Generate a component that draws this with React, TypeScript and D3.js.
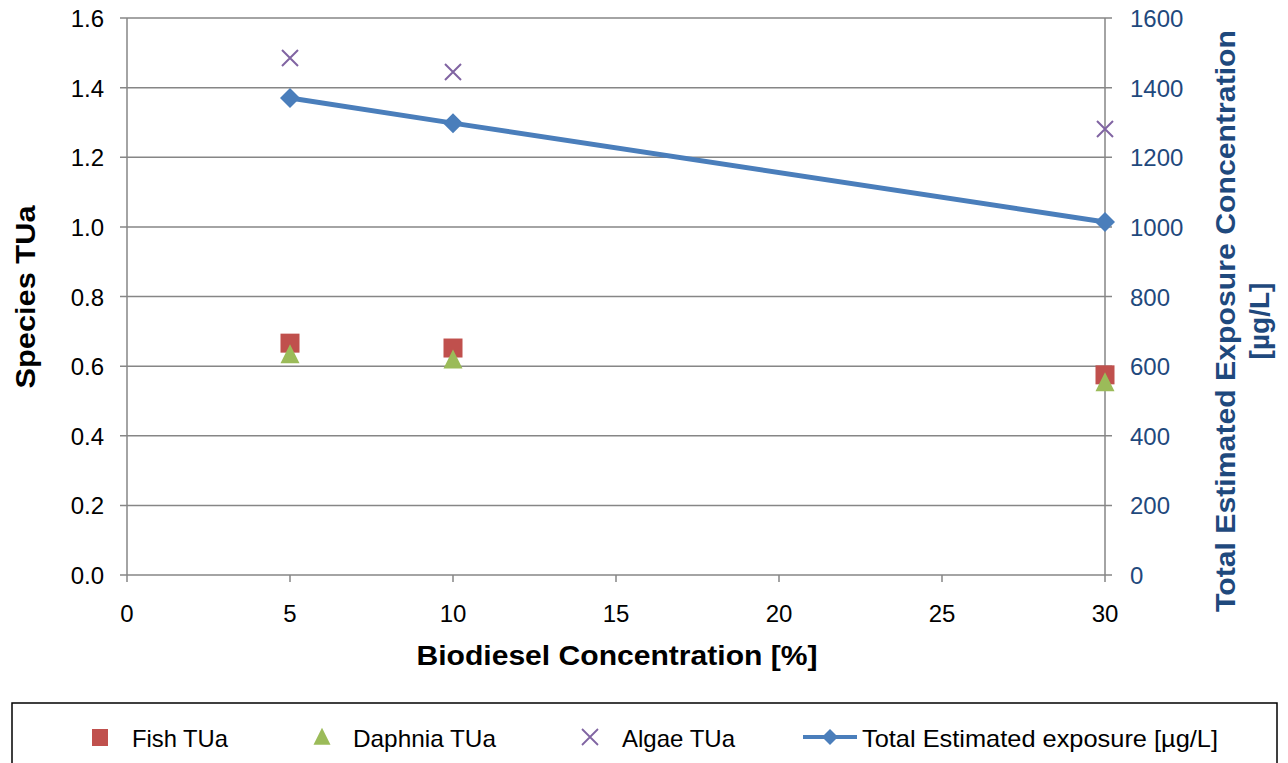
import React from "react";
import * as d3 from "d3";

const concentrations = [5, 10, 30];
const fishTUa = [0.666, 0.652, 0.575];
const daphniaTUa = [0.63, 0.615, 0.55];
const algaeTUa = [1.485, 1.445, 1.281];
const totalExposure = [1370, 1298, 1014];
const xTicks = [0, 5, 10, 15, 20, 25, 30];
const yLeftTicks = [0, 0.2, 0.4, 0.6, 0.8, 1.0, 1.2, 1.4, 1.6];
const yRightTicks = [0, 200, 400, 600, 800, 1000, 1200, 1400, 1600];

const W = 1288;
const H = 763;
const left = 127;
const right = 1105;
const top = 18;
const bottom = 575;
const font = "'Liberation Sans', Arial, sans-serif";
const axisColor = "#868686";
const rightColor = "#1F497D";

export default function App() {
  const x = d3.scaleLinear().domain([0, 30]).range([left, right]);
  const yL = d3.scaleLinear().domain([0, 1.6]).range([bottom, top]);
  const yR = d3.scaleLinear().domain([0, 1600]).range([bottom, top]);
  const line = d3
    .line<number>()
    .x((_, i) => x(concentrations[i]))
    .y((d) => yR(d));
  const tri = (cx: number, cy: number, s: number) =>
    `M${cx},${cy - s * 0.6}L${cx + s / 2},${cy + s * 0.4}L${cx - s / 2},${cy + s * 0.4}Z`;
  const diamond = (cx: number, cy: number, s: number) =>
    `M${cx},${cy - s}L${cx + s},${cy}L${cx},${cy + s}L${cx - s},${cy}Z`;
  const cross = (cx: number, cy: number, s: number) =>
    `M${cx - s},${cy - s}L${cx + s},${cy + s}M${cx - s},${cy + s}L${cx + s},${cy - s}`;

  return (
    <svg
      width={W}
      height={H}
      style={{ position: "absolute", left: 0, top: 0, background: "#fff" }}
      fontFamily={font}
    >
      {yLeftTicks.map((t) => (
        <line
          key={"g" + t}
          x1={left - 7}
          x2={right + 7}
          y1={yL(t)}
          y2={yL(t)}
          stroke={axisColor}
          strokeWidth={1.5}
        />
      ))}
      <line x1={left} x2={left} y1={top} y2={bottom} stroke={axisColor} strokeWidth={1.5} />
      <line x1={right} x2={right} y1={top} y2={bottom} stroke={axisColor} strokeWidth={1.5} />
      {xTicks.map((t) => (
        <g key={"x" + t}>
          <line x1={x(t)} x2={x(t)} y1={bottom} y2={bottom + 7} stroke={axisColor} strokeWidth={1.5} />
          <text x={x(t)} y={622} textAnchor="middle" fontSize={24} fill="#000">
            {t}
          </text>
        </g>
      ))}
      {yLeftTicks.map((t) => (
        <text key={"yl" + t} x={104} y={yL(t) + 9} textAnchor="end" fontSize={24} fill="#000">
          {t.toFixed(1)}
        </text>
      ))}
      {yRightTicks.map((t) => (
        <text key={"yr" + t} x={1130} y={yR(t) + 9} textAnchor="start" fontSize={24} fill={rightColor}>
          {t}
        </text>
      ))}
      <text
        x={617}
        y={665}
        textAnchor="middle"
        fontSize={28}
        fontWeight="bold"
        fill="#000"
        textLength={401}
        lengthAdjust="spacingAndGlyphs"
      >
        Biodiesel Concentration [%]
      </text>
      <text
        transform={`translate(35,297) rotate(-90)`}
        textAnchor="middle"
        fontSize={28}
        fontWeight="bold"
        fill="#000"
        textLength={183}
        lengthAdjust="spacingAndGlyphs"
      >
        Species TUa
      </text>
      <text
        transform={`translate(1235,321) rotate(-90)`}
        textAnchor="middle"
        fontSize={28}
        fontWeight="bold"
        fill={rightColor}
        textLength={582}
        lengthAdjust="spacingAndGlyphs"
      >
        Total Estimated Exposure Concentration
      </text>
      <text
        transform={`translate(1269,321) rotate(-90)`}
        textAnchor="middle"
        fontSize={28}
        fontWeight="bold"
        fill={rightColor}
      >
        [µg/L]
      </text>
      <path d={line(totalExposure) || ""} fill="none" stroke="#4A7EBB" strokeWidth={5} />
      {totalExposure.map((v, i) => (
        <path key={"d" + i} d={diamond(x(concentrations[i]), yR(v), 10)} fill="#4A7EBB" />
      ))}
      {fishTUa.map((v, i) => (
        <rect
          key={"f" + i}
          x={x(concentrations[i]) - 9.5}
          y={yL(v) - 9.5}
          width={19}
          height={19}
          fill="#C0504D"
        />
      ))}
      {daphniaTUa.map((v, i) => (
        <path key={"t" + i} d={tri(x(concentrations[i]), yL(v), 19)} fill="#9BBB59" />
      ))}
      {algaeTUa.map((v, i) => (
        <path
          key={"a" + i}
          d={cross(x(concentrations[i]), yL(v), 8)}
          stroke="#8064A2"
          strokeWidth={2}
          fill="none"
        />
      ))}
      <rect x={12} y={703} width={1265} height={70} fill="none" stroke="#000" strokeWidth={1.5} />
      <rect x={92} y={729} width={16} height={17} fill="#C0504D" />
      <text x={132} y={747} fontSize={24} fill="#000" textLength={96} lengthAdjust="spacingAndGlyphs">Fish TUa</text>
      <path d={tri(322, 738, 17)} fill="#9BBB59" />
      <text x={353} y={747} fontSize={24} fill="#000" textLength={143} lengthAdjust="spacingAndGlyphs">Daphnia TUa</text>
      <path d={cross(590, 737, 8)} stroke="#8064A2" strokeWidth={1.8} fill="none" />
      <text x={622} y={747} fontSize={24} fill="#000" textLength={113} lengthAdjust="spacingAndGlyphs">Algae TUa</text>
      <line x1={803} x2={857} y1={737} y2={737} stroke="#4A7EBB" strokeWidth={4} />
      <path d={diamond(830, 737, 8)} fill="#4A7EBB" />
      <text x={862} y={747} fontSize={24} fill="#000" textLength={356} lengthAdjust="spacingAndGlyphs">Total Estimated exposure [µg/L]</text>
    </svg>
  );
}
